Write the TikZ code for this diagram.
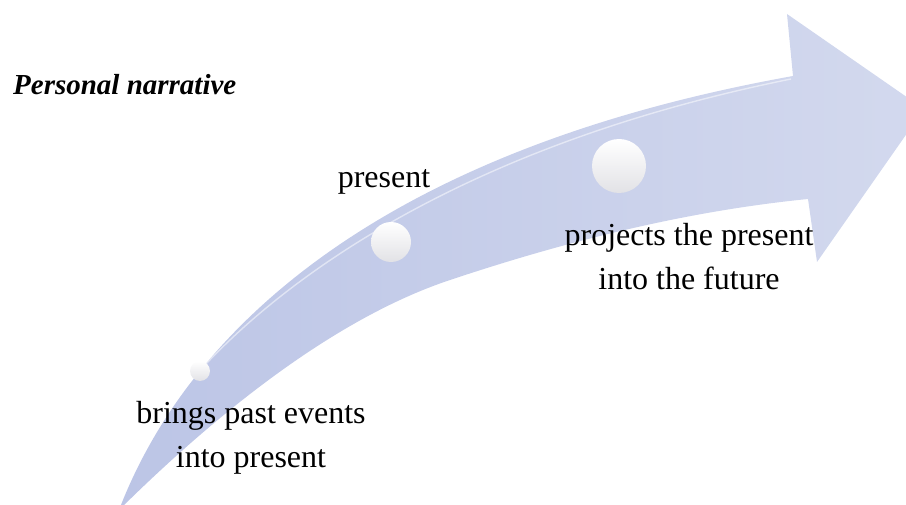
\documentclass[tikz,border=0pt]{standalone}
\usepackage{fontspec}
\setmainfont{Liberation Serif}
\usetikzlibrary{positioning}
\definecolor{ink}{HTML}{000000}
\definecolor{bandhead}{RGB}{211,217,238}
\definecolor{bandtail}{RGB}{188,197,230}
\definecolor{beadrim}{RGB}{226,226,230}
\tikzset{
  band/.style={left color=bandtail, right color=bandhead, draw=none},
  gleam/.style={draw=white, opacity=0.5, line width=1.4pt},
  bead/.style={circle, inner sep=0pt, draw=none, top color=white, middle color=white, bottom color=beadrim},
  phase/.style={font=\fontsize{32}{44}\selectfont, align=center, inner sep=0pt, text=ink},
  heading/.style={font=\fontsize{29}{34}\selectfont\bfseries\itshape, inner sep=0pt, text=ink},
}
\begin{document}
\begin{tikzpicture}[x=1pt, y=-1pt]
\useasboundingbox (0,0) rectangle (906,505);
\clip (0,0) rectangle (906,505);
\path[band] (119,510) .. controls (188,330) and (380,150) .. (793,76)
  -- (787,14) -- (924,109) -- (817,262) -- (808,199)
  .. controls (688,211) and (570,240) .. (450,280)
  .. controls (330,320) and (210,420) .. (119,510) -- cycle;
\draw[gleam] (160,420) .. controls (215,340) and (390,160) .. (791,79);
\node[bead, minimum size=20pt] (pastbead) at (200,371) {};
\node[bead, minimum size=40pt] (nowbead) at (391,242) {};
\node[bead, minimum size=54pt] (futurebead) at (619,166) {};
\node[heading, anchor=base west] (title) at (13,95) {Personal narrative};
\node[phase, anchor=base] (now) at (384,188) {present};
\node[phase] (future) at (689,257) {projects the present\\into the future};
\node[phase] (past) at (251,438) {brings past events\\into present};
\end{tikzpicture}
\end{document}
